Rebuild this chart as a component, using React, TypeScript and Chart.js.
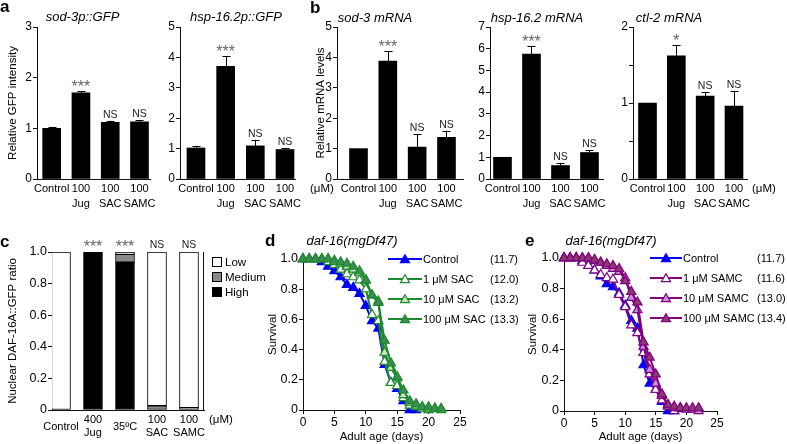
import React, { useEffect, useRef } from "react";
import { Chart, registerables } from "chart.js";

Chart.register(...registerables);

const FONT = '"Liberation Sans", Arial, Helvetica, sans-serif';
const INK = "#111";
Chart.defaults.font.family = FONT;
Chart.defaults.font.size = 11;
Chart.defaults.color = "#000";

// ---------------- data: panels a & b ----------------
const barCategories: any[] = ["Control", ["100", "Jug"], ["100", "SAC"], ["100", "SAMC"]];

const sod3pGFP = [1.0, 1.7, 1.12, 1.13];
const sod3pGFPErr = [0.03, 0.03, 0.03, 0.03];
const sod3pGFPSig = ["", "***", "NS", "NS"];

const hsp162pGFP = [1.02, 3.71, 1.09, 0.97];
const hsp162pGFPErr = [0.07, 0.33, 0.2, 0.05];
const hsp162pGFPSig = ["", "***", "NS", "NS"];

const sod3mRNA = [1.0, 3.88, 1.05, 1.37];
const sod3mRNAErr = [0, 0.33, 0.42, 0.22];
const sod3mRNASig = ["", "***", "NS", "NS"];

const hsp162mRNA = [1.0, 5.75, 0.62, 1.22];
const hsp162mRNAErr = [0, 0.38, 0.12, 0.1];
const hsp162mRNASig = ["", "***", "NS", "NS"];

const ctl2mRNA = [1.0, 1.62, 1.09, 0.96];
const ctl2mRNAErr = [0, 0.14, 0.05, 0.2];
const ctl2mRNASig = ["", "*", "NS", "NS"];

// ---------------- data: panel c ----------------
const nuclearCategories: any[] = ["Control", ["400", "Jug"], "35ºC", ["100", "SAC"], ["100", "SAMC"]];
const nuclearHigh = [null, 1.0, 0.935, null, null];
const nuclearMedium = [null, null, 0.05, 0.027, 0.015];
const nuclearLow = [1.0, null, 0.015, 0.973, 0.985];
const nuclearSig = ["", "***", "***", "NS", "NS"];

// ---------------- data: panels d & e ----------------
const days = [0, 1, 2, 3, 4, 5, 6, 7, 8, 9, 10, 11, 12, 13, 14, 15, 16, 17, 18, 19, 20, 21, 22];
const survControl = [1, 1, 1, 0.98, 0.95, 0.92, 0.88, 0.83, 0.81, 0.77, 0.69, 0.59, 0.54, 0.3, 0.18, 0.14, 0.06, 0, 0];
const survSAC1 = [1, 1, 1, 1, 0.98, 0.96, 0.93, 0.9, 0.88, 0.86, 0.8, 0.63, 0.59, 0.32, 0.18, 0.16, 0.08, 0.03, 0.02, 0.01, 0];
const survSAC10 = [1, 1, 1, 1, 1, 0.98, 0.97, 0.95, 0.93, 0.91, 0.86, 0.76, 0.72, 0.38, 0.28, 0.21, 0.1, 0.05, 0.03, 0.02, 0.01, 0.01, 0];
const survSAC100 = [1, 1, 1, 1, 1, 0.99, 0.98, 0.97, 0.95, 0.92, 0.86, 0.76, 0.71, 0.46, 0.31, 0.22, 0.13, 0.06, 0.04, 0.02, 0.02, 0.01, 0.01];
const survSAMC1 = [1, 1, 1, 0.97, 0.95, 0.92, 0.89, 0.87, 0.86, 0.76, 0.68, 0.56, 0.51, 0.38, 0.24, 0.14, 0.07, 0.03, 0];
const survSAMC10 = [1, 1, 1, 1, 1, 0.98, 0.97, 0.95, 0.93, 0.91, 0.87, 0.74, 0.66, 0.42, 0.27, 0.18, 0.1, 0.04, 0.02, 0.02, 0.01, 0.01, 0];
const survSAMC100 = [1, 1, 1, 1, 1, 0.99, 0.97, 0.96, 0.95, 0.93, 0.85, 0.78, 0.71, 0.45, 0.35, 0.24, 0.11, 0.04, 0.03, 0.02, 0.02, 0.02, 0.02];
const labelsD = ["Control", "1 μM SAC", "10 μM SAC", "100 μM SAC"];
const meansD = ["(11.7)", "(12.0)", "(13.2)", "(13.3)"];
const labelsE = ["Control", "1 μM SAMC", "10 μM SAMC", "100 μM SAMC"];
const meansE = ["(11.7)", "(11.6)", "(13.0)", "(13.4)"];

// ---------------- plugins ----------------
function drawSig(ctx: any, s: string, x: number, top: number) {
  ctx.textAlign = "center";
  ctx.textBaseline = "alphabetic";
  if (s.startsWith("*")) {
    ctx.font = `16px ${FONT}`;
    ctx.fillStyle = "#666";
    ctx.fillText(s, x, top + 1);
  } else {
    ctx.font = `10.5px ${FONT}`;
    ctx.fillStyle = "#222";
    ctx.fillText(s, x, top - 3);
  }
}

const errorBarPlugin = {
  id: "errBars",
  afterDatasetsDraw(chart: any, _a: any, opts: any) {
    const { ctx } = chart;
    const yScale = chart.scales.y;
    const meta = chart.getDatasetMeta(0);
    ctx.save();
    meta.data.forEach((bar: any, i: number) => {
      const v = opts.values[i];
      const e = opts.errors[i] || 0;
      const top = yScale.getPixelForValue(v + e);
      const x = Math.round(bar.x) + 0.5;
      if (e > 0) {
        ctx.strokeStyle = "#000";
        ctx.lineWidth = 1;
        ctx.beginPath();
        ctx.moveTo(x, bar.y);
        ctx.lineTo(x, top);
        ctx.moveTo(x - 4, Math.round(top) + 0.5);
        ctx.lineTo(x + 4, Math.round(top) + 0.5);
        ctx.stroke();
      }
      if (opts.sig[i]) drawSig(ctx, opts.sig[i], bar.x, top);
    });
    ctx.restore();
  },
};

const nuclearPlugin = {
  id: "nuclearExtras",
  afterDraw(chart: any, _a: any, opts: any) {
    const { ctx, chartArea: ca } = chart;
    const yScale = chart.scales.y;
    const top = yScale.getPixelForValue(1.0);
    const meta = chart.getDatasetMeta(0);
    ctx.save();
    ctx.strokeStyle = INK;
    ctx.lineWidth = 1;
    ctx.beginPath();
    ctx.moveTo(Math.round(ca.right) - 0.5, ca.top);
    ctx.lineTo(Math.round(ca.right) - 0.5, ca.bottom);
    ctx.stroke();
    meta.data.forEach((bar: any, i: number) => {
      if (opts.sig[i]) drawSig(ctx, opts.sig[i], bar.x, top - 1);
    });
    const ds = [...chart.data.datasets].reverse();
    ds.forEach((d: any, i: number) => {
      const cy = ca.top + 10 + i * 15;
      const x0 = ca.right + 8;
      ctx.fillStyle = d.backgroundColor;
      ctx.fillRect(x0, cy - 5, 10, 10);
      ctx.strokeStyle = "#000";
      ctx.strokeRect(x0 + 0.5, cy - 4.5, 9, 9);
      ctx.fillStyle = "#000";
      ctx.font = `11.5px ${FONT}`;
      ctx.textAlign = "left";
      ctx.textBaseline = "middle";
      ctx.fillText(d.label, x0 + 13, cy + 0.5);
    });
    ctx.restore();
  },
};

function triangle(ctx: any, x: number, y: number, r: number) {
  let rad = 0;
  const step = (Math.PI * 2) / 3;
  ctx.beginPath();
  ctx.moveTo(x + Math.sin(rad) * r, y - Math.cos(rad) * r);
  rad += step;
  ctx.lineTo(x + Math.sin(rad) * r, y - Math.cos(rad) * r);
  rad += step;
  ctx.lineTo(x + Math.sin(rad) * r, y - Math.cos(rad) * r);
  ctx.closePath();
}

const survivalLegendPlugin = {
  id: "survLegend",
  afterDraw(chart: any, _a: any, opts: any) {
    const { ctx, chartArea: ca } = chart;
    ctx.save();
    chart.data.datasets.forEach((d: any, i: number) => {
      const y = ca.top + i * 20;
      const x0 = ca.left + opts.dx;
      const x1 = x0 + opts.len;
      ctx.strokeStyle = d.borderColor;
      ctx.lineWidth = d.borderWidth;
      ctx.beginPath();
      ctx.moveTo(x0, y);
      ctx.lineTo(x1, y);
      ctx.stroke();
      triangle(ctx, (x0 + x1) / 2, y + 1, d.pointRadius);
      ctx.fillStyle = d.pointBackgroundColor;
      ctx.fill();
      ctx.lineWidth = d.pointBorderWidth;
      ctx.strokeStyle = d.pointBorderColor;
      ctx.stroke();
      ctx.fillStyle = "#000";
      ctx.font = `11px ${FONT}`;
      ctx.textAlign = "left";
      ctx.textBaseline = "middle";
      ctx.fillText(opts.labels[i], x1 + 1, y + 0.5);
      ctx.fillText(opts.means[i], ca.left + opts.valueX, y + 0.5);
    });
    ctx.restore();
  },
};

// ---------------- configs ----------------
function barConfig(p: any) {
  const cats = barCategories;
  return {
    type: "bar",
    data: {
      datasets: [
        {
          data: p.values.map((v: number, i: number) => ({ x: i, y: v })),
          backgroundColor: "#000",
          borderWidth: 0,
          barThickness: 18,
        },
      ],
    },
    options: {
      animation: false,
      responsive: false,
      maintainAspectRatio: false,
      devicePixelRatio: 1,
      layout: { padding: p.pad },
      plugins: {
        legend: { display: false },
        tooltip: { enabled: false },
        errBars: { values: p.values, errors: p.errors, sig: p.sig },
      },
      scales: {
        x: {
          type: "linear",
          offset: false,
          min: p.xMin,
          max: p.xMax,
          afterBuildTicks: (s: any) => {
            s.ticks = cats.map((_: any, i: number) => ({ value: i }));
          },
          afterFit: (s: any) => {
            s.height = p.xHeight;
          },
          grid: { display: false, drawTicks: false, tickLength: 0 },
          border: { display: true, color: INK, width: 1 },
          ticks: {
            autoSkip: false,
            maxRotation: 0,
            minRotation: 0,
            padding: 3,
            color: "#000",
            font: { family: FONT, size: 11, lineHeight: 1.33 },
            callback: (_v: any, i: number) => cats[i],
          },
        },
        y: {
          min: 0,
          max: p.yMax,
          afterFit: (s: any) => {
            s.width = p.yWidth;
          },
          grid: { drawOnChartArea: false, drawTicks: true, tickLength: 4, color: INK },
          border: { display: true, color: INK, width: 1 },
          ticks: {
            stepSize: p.yStep,
            padding: 1,
            color: "#000",
            font: { family: FONT, size: 12 },
            callback: p.yTick || ((v: number) => String(v)),
          },
          title: {
            display: !!p.yTitle,
            text: p.yTitle || "",
            padding: 0,
            color: "#000",
            font: { family: FONT, size: 11.5 },
          },
        },
      },
    },
    plugins: [errorBarPlugin],
  };
}

const fracTick = (v: number) => (v === 0 ? "0" : Number(v).toFixed(1));

function nuclearConfig() {
  const cats = nuclearCategories;
  const mk = (label: string, data: any[], color: string) => ({
    label,
    data: data.map((v, i) => ({ x: i, y: v })),
    backgroundColor: color,
    borderColor: "#000",
    borderWidth: 1,
    borderSkipped: false,
    barThickness: 19,
  });
  return {
    type: "bar",
    data: {
      datasets: [mk("High", nuclearHigh, "#000000"), mk("Medium", nuclearMedium, "#8a8a8a"), mk("Low", nuclearLow, "#ffffff")],
    },
    options: {
      animation: false,
      responsive: false,
      maintainAspectRatio: false,
      devicePixelRatio: 1,
      layout: { padding: { left: 0, top: 12, right: 72, bottom: 0 } },
      plugins: { legend: { display: false }, tooltip: { enabled: false }, nuclearExtras: { sig: nuclearSig } },
      scales: {
        x: {
          type: "linear",
          offset: false,
          stacked: true,
          min: -0.281,
          max: 4.469,
          afterBuildTicks: (s: any) => {
            s.ticks = cats.map((_: any, i: number) => ({ value: i }));
          },
          afterFit: (s: any) => {
            s.height = 34;
          },
          grid: { display: false, drawTicks: false, tickLength: 0 },
          border: { display: true, color: INK, width: 1 },
          ticks: {
            autoSkip: false,
            maxRotation: 0,
            minRotation: 0,
            padding: 10,
            crossAlign: "center",
            color: "#000",
            font: { family: FONT, size: 11, lineHeight: 1.22 },
            callback: (_v: any, i: number) => cats[i],
          },
        },
        y: {
          stacked: true,
          min: 0,
          max: 1,
          afterFit: (s: any) => {
            s.width = 46;
          },
          grid: { drawOnChartArea: false, drawTicks: true, tickLength: 4, color: INK },
          border: { display: true, color: INK, width: 1 },
          ticks: { stepSize: 0.2, padding: 1, color: "#000", font: { family: FONT, size: 12.5 }, callback: fracTick },
          title: { display: true, text: "Nuclear DAF-16A::GFP ratio", padding: 0, color: "#000", font: { family: FONT, size: 11.5 } },
        },
      },
    },
    plugins: [nuclearPlugin],
  };
}

function survivalConfig(series: any[], p: any) {
  return {
    type: "line",
    data: {
      datasets: series.map((s: any) => ({
        data: s.values.map((v: number, i: number) => ({ x: days[i], y: v })),
        borderColor: s.line,
        backgroundColor: s.fill,
        pointBackgroundColor: s.fill,
        pointBorderColor: s.line,
        pointStyle: "triangle",
        pointRadius: 5.3,
        pointBorderWidth: 1.2,
        borderWidth: 2,
        tension: 0,
        clip: false,
        order: s.order,
      })),
    },
    options: {
      animation: false,
      responsive: false,
      maintainAspectRatio: false,
      devicePixelRatio: 1,
      layout: { padding: p.pad },
      plugins: {
        legend: { display: false },
        tooltip: { enabled: false },
        survLegend: { labels: p.labels, means: p.means, dx: p.dx, len: p.len, valueX: p.valueX },
      },
      scales: {
        x: {
          type: "linear",
          min: 0,
          max: 25,
          afterFit: (s: any) => {
            s.height = p.xHeight;
          },
          grid: { drawOnChartArea: false, drawTicks: true, tickLength: 4, color: INK },
          border: { display: true, color: INK, width: 1 },
          ticks: { stepSize: 5, padding: 1, color: "#000", font: { family: FONT, size: 12 } },
          title: { display: true, text: "Adult age (days)", padding: 0, color: "#000", font: { family: FONT, size: 11.5 } },
        },
        y: {
          min: 0,
          max: 1,
          afterFit: (s: any) => {
            s.width = p.yWidth;
          },
          grid: { drawOnChartArea: false, drawTicks: true, tickLength: 4, color: INK },
          border: { display: true, color: INK, width: 1 },
          ticks: { stepSize: 0.2, padding: 1, color: "#000", font: { family: FONT, size: 12.5 }, callback: fracTick },
          title: { display: true, text: "Survival", padding: 0, color: "#000", font: { family: FONT, size: 11.5 } },
        },
      },
    },
    plugins: [survivalLegendPlugin],
  };
}

// ---------------- components ----------------
function ChartBox({ left, top, width, height, make }: any) {
  const ref = useRef<HTMLCanvasElement>(null);
  useEffect(() => {
    const chart = new Chart(ref.current as HTMLCanvasElement, make());
    return () => chart.destroy();
  }, []);
  return (
    <canvas
      ref={ref}
      width={width}
      height={height}
      style={{ position: "absolute", left, top, width, height }}
    />
  );
}

function Label({ text, x, y, size = 11, bold = false, italic = false, center = false }: any) {
  return (
    <div
      style={{
        position: "absolute",
        left: x,
        top: y,
        fontFamily: FONT,
        fontSize: size,
        lineHeight: 1,
        fontWeight: bold ? 700 : 400,
        fontStyle: italic ? "italic" : "normal",
        whiteSpace: "nowrap",
        transform: center ? "translateX(-50%)" : undefined,
        color: "#000",
      }}
    >
      {text}
    </div>
  );
}

const GREEN = "#1d8a2c";
const PURPLE = "#800080";
const BLUE = "#0000ff";

export default function App() {
  return (
    <div style={{ position: "absolute", left: 0, top: 0, width: 787, height: 444, background: "#fff", overflow: "hidden" }}>
      <ChartBox
        left={6}
        top={15}
        width={158}
        height={200}
        make={() =>
          barConfig({
            values: sod3pGFP, errors: sod3pGFPErr, sig: sod3pGFPSig,
            xMin: -0.502, xMax: 3.359, yMax: 3, yStep: 1,
            yTitle: "Relative GFP intensity", yWidth: 31, xHeight: 36,
            pad: { left: 0, top: 12, right: 14, bottom: 0 },
          })
        }
      />
      <ChartBox
        left={160}
        top={15}
        width={150}
        height={200}
        make={() =>
          barConfig({
            values: hsp162pGFP, errors: hsp162pGFPErr, sig: hsp162pGFPSig,
            xMin: -0.539, xMax: 3.337, yMax: 5, yStep: 1,
            yWidth: 20, xHeight: 36,
            pad: { left: 0, top: 12, right: 15, bottom: 0 },
          })
        }
      />
      <ChartBox
        left={314}
        top={15}
        width={164}
        height={200}
        make={() =>
          barConfig({
            values: sod3mRNA, errors: sod3mRNAErr, sig: sod3mRNASig,
            xMin: -0.733, xMax: 3.563, yMax: 5, yStep: 1,
            yTitle: "Relative mRNA levels", yWidth: 23, xHeight: 36,
            pad: { left: 0, top: 12, right: 15, bottom: 0 },
          })
        }
      />
      <ChartBox
        left={470}
        top={15}
        width={143}
        height={200}
        make={() =>
          barConfig({
            values: hsp162mRNA, errors: hsp162mRNAErr, sig: hsp162mRNASig,
            xMin: -0.431, xMax: 3.466, yMax: 7, yStep: 1,
            yWidth: 20, xHeight: 36,
            pad: { left: 0, top: 12, right: 10, bottom: 0 },
          })
        }
      />
      <ChartBox
        left={613}
        top={15}
        width={149}
        height={200}
        make={() =>
          barConfig({
            values: ctl2mRNA, errors: ctl2mRNAErr, sig: ctl2mRNASig,
            xMin: -0.503, xMax: 3.451, yMax: 2, yStep: 0.5,
            yTick: (v: number) => (Number.isInteger(v) ? String(v) : ""),
            yWidth: 20, xHeight: 36,
            pad: { left: 0, top: 12, right: 15, bottom: 0 },
          })
        }
      />
      <ChartBox left={6} top={240} width={270} height={204} make={() => nuclearConfig()} />
      <ChartBox
        left={266}
        top={247}
        width={254}
        height={197}
        make={() =>
          survivalConfig(
            [
              { values: survControl, line: BLUE, fill: BLUE, order: 3 },
              { values: survSAC1, line: GREEN, fill: "#ffffff", order: 2 },
              { values: survSAC10, line: GREEN, fill: "#c6e7be", order: 1 },
              { values: survSAC100, line: GREEN, fill: "#3d8b55", order: 0 },
            ],
            {
              labels: labelsD, means: meansD, dx: 85, len: 34, valueX: 187,
              yWidth: 37, xHeight: 34, pad: { left: 0, top: 12, right: 60, bottom: 0 },
            }
          )
        }
      />
      <ChartBox
        left={526}
        top={246}
        width={261}
        height={198}
        make={() =>
          survivalConfig(
            [
              { values: survControl, line: BLUE, fill: BLUE, order: 3 },
              { values: survSAMC1, line: PURPLE, fill: "#ffffff", order: 2 },
              { values: survSAMC10, line: PURPLE, fill: "#c88ee0", order: 1 },
              { values: survSAMC100, line: PURPLE, fill: "#8b3a70", order: 0 },
            ],
            {
              labels: labelsE, means: meansE, dx: 86, len: 32, valueX: 193,
              yWidth: 38, xHeight: 33, pad: { left: 0, top: 12, right: 70, bottom: 0 },
            }
          )
        }
      />

      <Label text="a" x={0} y={-2} size={17} bold />
      <Label text="b" x={310} y={-1.5} size={17} bold />
      <Label text="c" x={0} y={232.5} size={17} bold />
      <Label text="d" x={265} y={232} size={17} bold />
      <Label text="e" x={525} y={232} size={17} bold />

      <Label text="sod-3p::GFP" x={82.5} y={10} size={13} italic center />
      <Label text="hsp-16.2p::GFP" x={236} y={10} size={13} italic center />
      <Label text="sod-3 mRNA" x={375} y={11} size={13} italic center />
      <Label text="hsp-16.2 mRNA" x={537} y={11} size={13} italic center />
      <Label text="ctl-2 mRNA" x={669} y={11} size={13} italic center />
      <Label text="daf-16(mgDf47)" x={352} y={233.5} size={13} italic center />
      <Label text="daf-16(mgDf47)" x={611} y={233.5} size={13} italic center />

      <Label text="(μM)" x={310} y={183} size={11.5} />
      <Label text="(μM)" x={752} y={183} size={11.5} />
      <Label text="(μM)" x={209} y={414} size={11.5} />
    </div>
  );
}
